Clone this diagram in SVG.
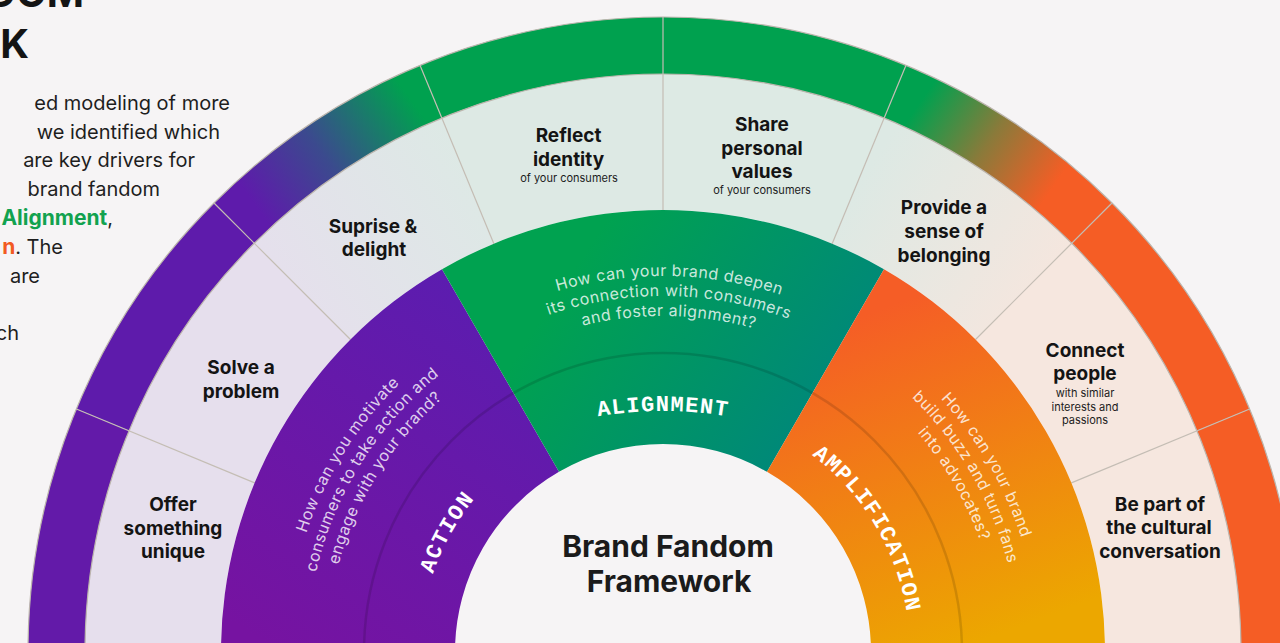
<svg xmlns="http://www.w3.org/2000/svg" width="1280" height="643" viewBox="0 0 1280 643">
<style>
.item{font-family:Inter,"Noto Sans","Liberation Sans",sans-serif;font-weight:700;font-size:19px;fill:#141414;text-anchor:middle}
.sub{font-family:Inter,"Noto Sans","Liberation Sans",sans-serif;font-weight:400;font-size:11px;fill:#1c1c1c;text-anchor:middle}
.q{font-family:Inter,"Noto Sans","Liberation Sans",sans-serif;font-weight:400;font-size:16px;fill:#ffffff;fill-opacity:.8;letter-spacing:.5px}
.lbl{font-family:"Liberation Mono","DejaVu Sans Mono",monospace;font-weight:700;font-size:22px;fill:#ffffff;letter-spacing:1.3px}
.body{font-family:Inter,"Noto Sans","Liberation Sans",sans-serif;font-weight:400;font-size:20px;fill:#1e1e1e;text-anchor:end}
.title{font-family:Inter,"Noto Sans","Liberation Sans",sans-serif;font-weight:700;font-size:30px;fill:#1b1b1b;text-anchor:middle}
.head{font-family:Inter,"Noto Sans","Liberation Sans",sans-serif;font-weight:700;font-size:40px;fill:#141414}
.div{stroke:#c4bdb4;stroke-width:1.2;fill:none}
.edge{stroke:#bcb5ad;stroke-width:1.2;fill:none}
.tp{fill:none}
</style>
<defs>
<linearGradient id="gPurple" gradientUnits="userSpaceOnUse" x1="500" y1="280" x2="260" y2="640">
<stop offset="0" stop-color="#5a1db0"/><stop offset="1" stop-color="#7613a1"/></linearGradient>
<linearGradient id="gGreen" gradientUnits="userSpaceOnUse" x1="560" y1="290" x2="830" y2="470">
<stop offset="0" stop-color="#00a250"/><stop offset="1" stop-color="#00847f"/></linearGradient>
<linearGradient id="gOrange" gradientUnits="userSpaceOnUse" x1="850" y1="320" x2="970" y2="645">
<stop offset="0" stop-color="#f55d26"/><stop offset="1" stop-color="#eca700"/></linearGradient>
<linearGradient id="gBandPG" gradientUnits="userSpaceOnUse" x1="262" y1="215" x2="415" y2="105">
<stop offset="0" stop-color="#5e1bab"/><stop offset="0.45" stop-color="#3b4a8e"/><stop offset="1" stop-color="#00a14f"/></linearGradient>
<linearGradient id="gBandGO" gradientUnits="userSpaceOnUse" x1="925" y1="95" x2="1055" y2="185">
<stop offset="0" stop-color="#00a14f"/><stop offset="0.5" stop-color="#8a7a3a"/><stop offset="1" stop-color="#f55d25"/></linearGradient>
<linearGradient id="gLightPG" gradientUnits="userSpaceOnUse" x1="270" y1="300" x2="470" y2="160">
<stop offset="0" stop-color="#e6dfed"/><stop offset="1" stop-color="#dde9e5"/></linearGradient>
<linearGradient id="gLightGO" gradientUnits="userSpaceOnUse" x1="860" y1="180" x2="1040" y2="300">
<stop offset="0" stop-color="#dde9e4"/><stop offset="1" stop-color="#f5e6de"/></linearGradient>
<path id="qa1" class="tp" d="M331.01,828.52 A376,376 0 0 1 676.12,276.23"/>
<path id="qa2" class="tp" d="M348.67,819.13 A356,356 0 0 1 675.42,296.22"/>
<path id="qa3" class="tp" d="M366.33,809.74 A336,336 0 0 1 674.73,316.20"/>
<path id="qg1" class="tp" d="M340.70,458.34 A376,376 0 0 1 991.86,469.71"/>
<path id="qg2" class="tp" d="M357.85,468.65 A356,356 0 0 1 974.36,479.41"/>
<path id="qg3" class="tp" d="M374.99,478.95 A336,336 0 0 1 956.87,489.10"/>
<path id="qo1" class="tp" d="M663,276 A376,376 0 0 1 988.63,840"/>
<path id="qo2" class="tp" d="M663,296 A356,356 0 0 1 971.31,830"/>
<path id="qo3" class="tp" d="M663,316 A336,336 0 0 1 953.99,820"/>
<path id="lAlign" class="tp" d="M316.6,611 A400,400 0 0 1 1009.4,611"/>
<path id="lAction" class="tp" d="M454.71,777.15 A243,243 0 0 1 658.76,409.04"/>
<path id="lAmp" class="tp" d="M658.69,405.04 A247,247 0 0 1 879.03,771.75"/>
</defs>
<rect class="bg" x="0" y="0" width="1280" height="643" fill="#f6f4f5"/>

<g id="intro-text">
<text class="head" x="84" y="7" text-anchor="end">DOM</text>
<text class="head" x="29" y="58" text-anchor="end">K</text>
<text class="body" x="230" y="110">ed modeling of more</text>
<text class="body" x="220" y="139">we identified which</text>
<text class="body" x="195" y="167">are key drivers for</text>
<text class="body" x="160" y="196">brand fandom</text>
<text class="body" x="113" y="225"><tspan fill="#12a24f" font-weight="700" font-size="21">Alignment</tspan>,</text>
<text class="body" x="63" y="254"><tspan fill="#f25a21" font-weight="700" font-size="21">n</tspan>. The</text>
<text class="body" x="40" y="283">are</text>
<text class="body" x="19" y="340">ch</text>
</g>

<g id="item-offer">
<path d="M85,652 A578,578 0 0 1 129,430.81 L254.65,482.86 A442,442 0 0 0 221,652 Z" fill="#e6dfed"/>
<path d="M28,652 A635,635 0 0 1 76.34,408.99 L129,430.81 A578,578 0 0 0 85,652 Z" fill="#631aa9"/>
<text class="item" x="173" y="511">Offer</text>
<text class="item" x="173" y="535">something</text>
<text class="item" x="173" y="558">unique</text>
</g>
<g id="item-solve">
<path d="M129,430.81 A578,578 0 0 1 254.29,243.29 L350.46,339.46 A442,442 0 0 0 254.65,482.86 Z" fill="#e6dfed"/>
<path d="M76.34,408.99 A635,635 0 0 1 213.99,202.99 L254.29,243.29 A578,578 0 0 0 129,430.81 Z" fill="#5e1bab"/>
<text class="item" x="241" y="374">Solve a</text>
<text class="item" x="241" y="398">problem</text>
</g>
<g id="item-surprise">
<path d="M254.29,243.29 A578,578 0 0 1 441.81,118 L493.86,243.65 A442,442 0 0 0 350.46,339.46 Z" fill="url(#gLightPG)"/>
<path d="M213.99,202.99 A635,635 0 0 1 420,65.34 L441.81,118 A578,578 0 0 0 254.29,243.29 Z" fill="url(#gBandPG)"/>
<text class="item" x="373" y="233">Suprise &amp;</text>
<text class="item" x="374" y="256">delight</text>
</g>
<g id="item-reflect">
<path d="M441.81,118 A578,578 0 0 1 663,74 L663,210 A442,442 0 0 0 493.86,243.65 Z" fill="#dde9e4"/>
<path d="M420,65.34 A635,635 0 0 1 663,17 L663,74 A578,578 0 0 0 441.81,118 Z" fill="#00a14f"/>
<text class="item" x="568.5" y="142">Reflect</text>
<text class="item" x="568.5" y="166">identity</text>
<text class="sub" x="569" y="182">of your consumers</text>
</g>
<g id="item-share">
<path d="M663,74 A578,578 0 0 1 884.19,118 L832.14,243.65 A442,442 0 0 0 663,210 Z" fill="#ddeae4"/>
<path d="M663,17 A635,635 0 0 1 906,65.34 L884.19,118 A578,578 0 0 0 663,74 Z" fill="#00a14f"/>
<text class="item" x="762" y="131">Share</text>
<text class="item" x="762" y="155">personal</text>
<text class="item" x="762" y="178">values</text>
<text class="sub" x="762" y="194">of your consumers</text>
</g>
<g id="item-belonging">
<path d="M884.19,118 A578,578 0 0 1 1071.71,243.29 L975.54,339.46 A442,442 0 0 0 832.14,243.65 Z" fill="url(#gLightGO)"/>
<path d="M906,65.34 A635,635 0 0 1 1112.01,202.99 L1071.71,243.29 A578,578 0 0 0 884.19,118 Z" fill="url(#gBandGO)"/>
<text class="item" x="944" y="214">Provide a</text>
<text class="item" x="944" y="238">sense of</text>
<text class="item" x="944" y="262">belonging</text>
</g>
<g id="item-connect">
<path d="M1071.71,243.29 A578,578 0 0 1 1197,430.81 L1071.35,482.86 A442,442 0 0 0 975.54,339.46 Z" fill="#f6e7df"/>
<path d="M1112.01,202.99 A635,635 0 0 1 1249.66,408.99 L1197,430.81 A578,578 0 0 0 1071.71,243.29 Z" fill="#f55d25"/>
<text class="item" x="1085" y="357">Connect</text>
<text class="item" x="1085" y="380">people</text>
<text class="sub" x="1085" y="397">with similar</text>
<text class="sub" x="1085" y="411">interests and</text>
<text class="sub" x="1085" y="424">passions</text>
</g>
<g id="item-culture">
<path d="M1197,430.81 A578,578 0 0 1 1241,652 L1105,652 A442,442 0 0 0 1071.35,482.86 Z" fill="#f6e7df"/>
<path d="M1249.66,408.99 A635,635 0 0 1 1298,652 L1241,652 A578,578 0 0 0 1197,430.81 Z" fill="#f55d25"/>
<text class="item" x="1160" y="511">Be part of</text>
<text class="item" x="1159" y="534">the cultural</text>
<text class="item" x="1160" y="558">conversation</text>
</g>

<g id="ring-lines">
<path class="edge" d="M28,652 A635,635 0 0 1 663,17 A635,635 0 0 1 1298,652"/>
<path class="edge" d="M85,652 A578,578 0 0 1 663,74 A578,578 0 0 1 1241,652"/>
<line class="div" x1="254.65" y1="482.86" x2="76.34" y2="408.99"/>
<line class="div" x1="350.46" y1="339.46" x2="213.99" y2="202.99"/>
<line class="div" x1="493.86" y1="243.65" x2="420" y2="65.34"/>
<line class="div" x1="663" y1="210" x2="663" y2="17"/>
<line class="div" x1="832.14" y1="243.65" x2="906" y2="65.34"/>
<line class="div" x1="975.54" y1="339.46" x2="1112.01" y2="202.99"/>
<line class="div" x1="1071.35" y1="482.86" x2="1249.66" y2="408.99"/>
</g>

<g id="sector-action">
<path d="M221,652 A442,442 0 0 1 442,269.21 L559,471.87 A208,208 0 0 0 455,652 Z" fill="url(#gPurple)"/>
<text class="q"><textPath href="#qa1" startOffset="50%" text-anchor="middle">How can you motivate</textPath></text>
<text class="q"><textPath href="#qa2" startOffset="50%" text-anchor="middle">consumers to take action and</textPath></text>
<text class="q"><textPath href="#qa3" startOffset="50%" text-anchor="middle">engage with your brand?</textPath></text>
</g>
<g id="sector-alignment">
<path d="M442,269.21 A442,442 0 0 1 884,269.21 L767,471.87 A208,208 0 0 0 559,471.87 Z" fill="url(#gGreen)"/>
<text class="q"><textPath href="#qg1" startOffset="50%" text-anchor="middle">How can your brand deepen</textPath></text>
<text class="q"><textPath href="#qg2" startOffset="50%" text-anchor="middle">its connection with consumers</textPath></text>
<text class="q"><textPath href="#qg3" startOffset="50%" text-anchor="middle">and foster alignment?</textPath></text>
</g>
<g id="sector-amplification">
<path d="M884,269.21 A442,442 0 0 1 1105,652 L871,652 A208,208 0 0 0 767,471.87 Z" fill="url(#gOrange)"/>
<text class="q"><textPath href="#qo1" startOffset="50%" text-anchor="middle">How can your brand</textPath></text>
<text class="q"><textPath href="#qo2" startOffset="50%" text-anchor="middle">build buzz and turn fans</textPath></text>
<text class="q"><textPath href="#qo3" startOffset="50%" text-anchor="middle">into advocates?</textPath></text>
</g>
<path id="ring-shadow" d="M364,652 A299,299 0 0 1 663,353 A299,299 0 0 1 962,652" fill="none" stroke="#000" stroke-opacity=".13" stroke-width="2.5"/>
<g id="labels">
<text class="lbl"><textPath href="#lAction" startOffset="50%" text-anchor="middle">ACTION</textPath></text>
<text class="lbl"><textPath href="#lAlign" startOffset="50%" text-anchor="middle">ALIGNMENT</textPath></text>
<text class="lbl"><textPath href="#lAmp" startOffset="50%" text-anchor="middle">AMPLIFICATION</textPath></text>
</g>
<g id="center">
<text class="title" x="668" y="557">Brand Fandom</text>
<text class="title" x="669" y="592">Framework</text>
</g>
</svg>
